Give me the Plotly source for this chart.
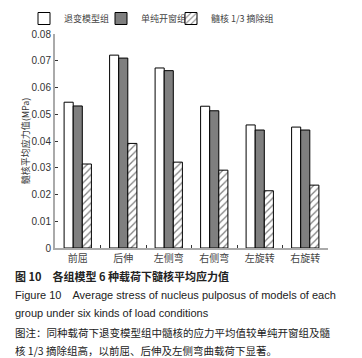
import plotly.graph_objects as go

categories = ["前屈", "后伸", "左侧弯", "右侧弯", "左旋转", "右旋转"]
series_names = ["退变模型组", "单纯开窗组", "髓核 1/3 摘除组"]
degenerate = [0.0545, 0.0721, 0.0673, 0.0530, 0.0460, 0.0452]
fenestration = [0.0531, 0.0710, 0.0663, 0.0513, 0.0441, 0.0441]
resection = [0.0314, 0.0391, 0.0321, 0.0291, 0.0214, 0.0235]
y_ticks = [0, 0.01, 0.02, 0.03, 0.04, 0.05, 0.06, 0.07, 0.08]
y_tick_text = ["0", "0.01", "0.02", "0.03", "0.04", "0.05", "0.06", "0.07", "0.08"]

CJK = "Noto Sans CJK SC"
LAT = "Liberation Sans, Arial, " + CJK
W, H = 362, 358

fig = go.Figure()
fig.add_trace(go.Bar(name=series_names[0], x=categories, y=degenerate, legend="legend",
                     marker=dict(color="white", line=dict(color="black", width=1))))
fig.add_trace(go.Bar(name=series_names[1], x=categories, y=fenestration, legend="legend2",
                     marker=dict(color="#7f7f7f", line=dict(color="black", width=1))))
fig.add_trace(go.Bar(name=series_names[2], x=categories, y=resection, legend="legend3",
                     marker=dict(color="white", line=dict(color="black", width=1),
                                 pattern=dict(shape="/", fgcolor="black", bgcolor="white",
                                              size=5, solidity=0.25))))

def leg(xpx):
    return dict(orientation="h", x=xpx / W, xref="container", y=1 - 4 / H, yref="container",
                xanchor="left", yanchor="top",
                font=dict(family=CJK, size=9, color="#444444"),
                itemwidth=30, bgcolor="rgba(0,0,0,0)")

fig.update_layout(
    width=W, height=H,
    margin=dict(l=55, r=34, t=34, b=110, autoexpand=False),
    paper_bgcolor="white", plot_bgcolor="white",
    barmode="group", bargap=0.4, bargroupgap=0,
    font=dict(family=LAT, size=10, color="#333333"),
    showlegend=True,
    legend=leg(24), legend2=leg(101), legend3=leg(171),
    xaxis=dict(showline=True, linecolor="#aaaaaa", linewidth=2,
               ticks="inside", tickson="boundaries", ticklen=3, tickcolor="#333333",
               tickfont=dict(family=CJK, size=10, color="#444444"),
               showgrid=False),
    yaxis=dict(range=[0, 0.08], tickvals=y_ticks, ticktext=y_tick_text,
               showline=True, linecolor="#aaaaaa", linewidth=2,
               ticks="inside", ticklen=3, tickcolor="#333333",
               tickfont=dict(family=LAT, size=10, color="#333333"),
               showgrid=False, zeroline=False,
               title=dict(text="髓核平均应力值(MPa)", font=dict(family=CJK, size=9, color="#333333"),
                          standoff=0)),
)

captions = [
    ("<b>图 10　各组模型 6 种载荷下髓核平均应力值</b>", 276, CJK, 11),
    ("Figure 10　Average stress of nucleus pulposus of models of each", 295, LAT, 11),
    ("group under six kinds of load conditions", 313, LAT, 11),
    ("图注：同种载荷下退变模型组中髓核的应力平均值较单纯开窗组及髓", 332, CJK, 10.5),
    ("核 1/3 摘除组高，以前屈、后伸及左侧弯曲载荷下显著。", 350, CJK, 10.5),
]
for text, ypx, fam, sz in captions:
    fig.add_annotation(text=text, xref="paper", yref="paper",
                       x=(13 - 55) / (W - 55 - 34), y=(248 - ypx) / (248 - 34),
                       xanchor="left", yanchor="middle", showarrow=False,
                       font=dict(family=fam, size=sz, color="#222222"))

fig.write_html("out.html", config={"displayModeBar": False},
               post_script="document.body.style.margin='0';document.body.style.overflow='hidden';")
